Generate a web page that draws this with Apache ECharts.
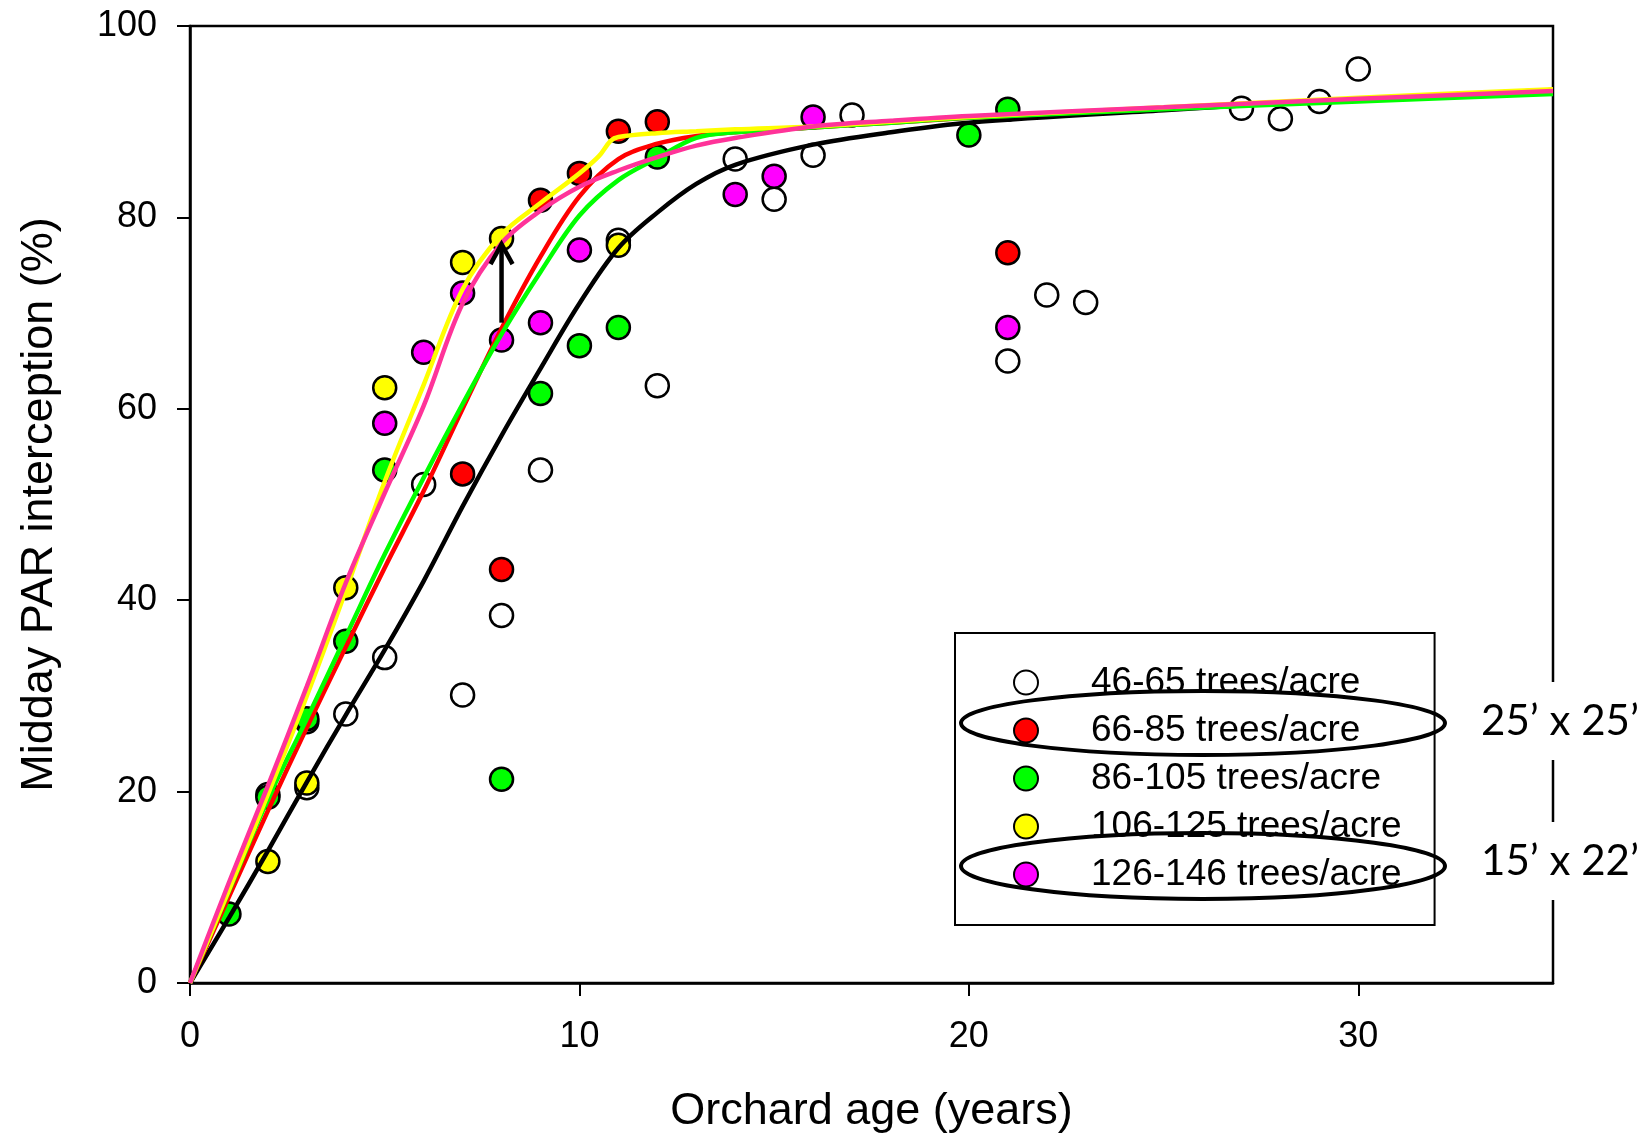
<!DOCTYPE html>
<html>
<head>
<meta charset="utf-8">
<title>Midday PAR interception vs orchard age</title>
<script src="https://cdn.jsdelivr.net/npm/echarts@6/dist/echarts.min.js"></script>
<style>
  html, body { margin: 0; padding: 0; background: #fff; }
  #chart { width: 1646px; height: 1144px; }
</style>
</head>
<body>
<div id="chart"></div>
<script>
// density groups (legend order)
const groupNames = ['46-65 trees/acre', '66-85 trees/acre', '86-105 trees/acre', '106-125 trees/acre', '126-146 trees/acre']
const fillColors = ['#ffffff', '#ff0000', '#00ff00', '#ffff00', '#ff00ff']
const lineColors = ['#000000', '#ff0000', '#00ff00', '#ffff00', '#ff3399']

// observed points [age, % interception]
const pts46 = [[2, 19.7], [3, 27.3], [3, 20.4], [4, 28.1], [5, 34.0], [6, 52.1], [7, 30.1], [8, 38.4], [9, 53.6], [11, 77.6], [12, 62.4],
  [14, 86.1], [15, 81.9], [16, 86.5], [17, 90.7], [21, 65.0], [22, 71.9], [23, 71.1], [27, 91.4], [28, 90.3], [29, 92.1], [30, 95.5]]
const pts66 = [[7, 53.2], [8, 43.2], [9, 81.8], [10, 84.6], [11, 89.0], [12, 90.0], [21, 76.3]]
const pts86 = [[1, 7.2], [2, 19.4], [3, 27.6], [4, 35.7], [5, 53.6], [8, 21.3], [9, 61.6], [10, 66.6], [11, 68.5], [12, 86.3], [20, 88.6], [21, 91.3]]
const pts106 = [[2, 12.7], [3, 20.9], [4, 41.3], [5, 62.2], [7, 75.3], [8, 77.8], [11, 77.1]]
const pts126 = [[5, 58.5], [6, 65.9], [7, 72.1], [8, 67.2], [9, 69.0], [10, 76.6], [14, 82.4], [15, 84.3], [16, 90.5], [21, 68.5]]

// fitted curves
const fit46 = [[0, 0], [1, 6.8], [2, 13.8], [3, 21.0], [4, 28.0], [5, 34.8], [6, 42.0], [7, 49.8], [8, 57.2], [9, 64.2], [10, 71.0],
  [11, 76.8], [12, 80.5], [13, 83.5], [14, 85.5], [16, 87.6], [18, 88.9], [20, 89.9], [25, 91.2], [30, 92.4], [35, 93.3]]
const fit66 = [[0, 0], [1, 9.0], [2, 18.0], [3, 26.7], [4, 35.1], [5, 43.4], [6, 51.4], [7, 60.0], [8, 68.4], [9, 75.9], [10, 82.2],
  [11, 86.1], [12, 87.7], [13, 88.5], [14, 88.9], [16, 89.4], [18, 89.9], [20, 90.4], [25, 91.4], [30, 92.4], [35, 93.3]]
const fit86 = [[0, 0], [1, 9.6], [2, 19.2], [3, 27.6], [4, 36.2], [5, 44.8], [6, 52.8], [7, 60.5], [8, 67.8], [9, 74.3], [10, 80.2],
  [11, 83.9], [12, 86.2], [13, 88.3], [14, 88.9], [16, 89.4], [18, 89.9], [20, 90.4], [25, 91.3], [30, 92.1], [35, 92.9]]
const fit106 = [[0, 0], [1, 9.7], [2, 19.7], [3, 30.0], [4, 41.0], [5, 52.4], [6, 62.5], [7, 72.5], [8, 78.2], [9, 81.5], [10, 84.6],
  [10.5, 86.4], [10.8, 88.0], [11, 88.4], [12, 88.8], [13, 89.0], [14, 89.2], [16, 89.5], [18, 90.0], [20, 90.5], [25, 91.5], [30, 92.5], [35, 93.4]]
const fit126 = [[0, 0], [1, 10.5], [2, 20.6], [3, 31.0], [4, 41.8], [5, 51.2], [6, 60.3], [7, 71.0], [8, 77.3], [9, 80.7], [10, 83.2],
  [11, 84.9], [12, 86.3], [13, 87.5], [14, 88.3], [16, 89.5], [18, 90.1], [20, 90.6], [25, 91.5], [30, 92.4], [35, 93.2]]

// arrow at age 8: [age, from, to]
const arrowData = [[8, 69.0, 77.2]]

const xTicks = { min: 0, max: 35, interval: 10 }
const yTicks = { min: 0, max: 100, interval: 20 }

const FONT = "'Liberation Sans', Arial, sans-serif"
const pointSets = [pts46, pts66, pts86, pts106, pts126]
const fitSets = [fit46, fit66, fit86, fit106, fit126]

const scatterSeries = pointSets.map((pts, i) => ({
  name: groupNames[i],
  type: 'scatter',
  data: pts,
  symbol: 'circle',
  symbolSize: 23,
  itemStyle: { color: fillColors[i], borderColor: '#000', borderWidth: 2.5, opacity: 1 },
  z: 2
}))

const lineSeries = fitSets.map((pts, i) => ({
  name: 'fit ' + groupNames[i],
  type: 'line',
  data: pts,
  smooth: 0.35,
  showSymbol: false,
  lineStyle: { color: lineColors[i], width: 4.5 },
  itemStyle: { color: lineColors[i] },
  z: 3
}))

const arrowSeries = {
  type: 'custom',
  data: arrowData,
  encode: { x: 0, y: [1, 2] },
  z: 4,
  renderItem: function (params, api) {
    const p0 = api.coord([api.value(0), api.value(1)])
    const p1 = api.coord([api.value(0), api.value(2)])
    return {
      type: 'group',
      children: [
        { type: 'line', shape: { x1: p0[0], y1: p0[1], x2: p1[0], y2: p1[1] }, style: { stroke: '#000', lineWidth: 4.5 } },
        { type: 'polyline', shape: { points: [[p1[0] - 11, p1[1] + 20], [p1[0], p1[1]], [p1[0] + 11, p1[1] + 20]] },
          style: { stroke: '#000', lineWidth: 4.5, fill: null } }
      ]
    }
  }
}

const chart = echarts.init(document.getElementById('chart'))
chart.setOption({
  animation: false,
  backgroundColor: '#fff',
  textStyle: { fontFamily: FONT },
  grid: {
    left: 190, top: 26, width: 1363, height: 957,
    show: true, borderColor: '#000', borderWidth: 2.5, backgroundColor: 'transparent'
  },
  xAxis: {
    type: 'value',
    min: xTicks.min, max: xTicks.max, interval: xTicks.interval,
    name: 'Orchard age (years)',
    nameLocation: 'middle',
    nameGap: 106,
    nameTextStyle: { fontSize: 45, color: '#000', fontFamily: FONT },
    axisLine: { show: true, lineStyle: { color: '#000', width: 2.5 } },
    axisTick: { show: true, inside: false, length: 13, lineStyle: { color: '#000', width: 2 } },
    axisLabel: { fontSize: 36, color: '#000', margin: 36, fontFamily: FONT, showMaxLabel: false },
    splitLine: { show: false }
  },
  yAxis: {
    type: 'value',
    min: yTicks.min, max: yTicks.max, interval: yTicks.interval,
    name: 'Midday PAR interception (%)',
    nameLocation: 'middle',
    nameRotate: 90,
    nameGap: 128,
    nameTextStyle: { fontSize: 45, color: '#000', fontFamily: FONT },
    axisLine: { show: true, lineStyle: { color: '#000', width: 2.5 } },
    axisTick: { show: true, inside: false, length: 13, lineStyle: { color: '#000', width: 2 } },
    axisLabel: { fontSize: 36, color: '#000', margin: 33, fontFamily: FONT },
    splitLine: { show: false }
  },
  legend: {
    data: groupNames,
    orient: 'vertical',
    left: 955,
    top: 633,
    padding: [31, 33, 32, 58],
    itemWidth: 24,
    itemHeight: 24,
    itemGap: 11,
    icon: 'circle',
    borderColor: '#000',
    borderWidth: 2,
    backgroundColor: '#fff',
    selectedMode: false,
    textStyle: { fontSize: 37, lineHeight: 36, color: '#000', fontFamily: FONT, padding: [0, 0, 0, 48] }
  },
  graphic: [
    { type: 'ellipse', z: 100, shape: { cx: 1203, cy: 723, rx: 242, ry: 32 },
      style: { stroke: '#000', lineWidth: 4, fill: null } },
    { type: 'ellipse', z: 100, shape: { cx: 1203, cy: 866, rx: 242, ry: 33 },
      style: { stroke: '#000', lineWidth: 4, fill: null } },
    { type: 'text', z: 100, x: 1560, y: 721,
      style: { text: '25\u2019 x 25\u2019', font: "42px Lato, 'Open Sans', sans-serif", fill: '#000',
        align: 'center', verticalAlign: 'middle', backgroundColor: '#fff', padding: [18, 4] } },
    { type: 'text', z: 100, x: 1560, y: 861,
      style: { text: '15\u2019 x 22\u2019', font: "42px Lato, 'Open Sans', sans-serif", fill: '#000',
        align: 'center', verticalAlign: 'middle', backgroundColor: '#fff', padding: [18, 4] } }
  ],
  series: [...scatterSeries, ...lineSeries, arrowSeries]
})
</script>
</body>
</html>
